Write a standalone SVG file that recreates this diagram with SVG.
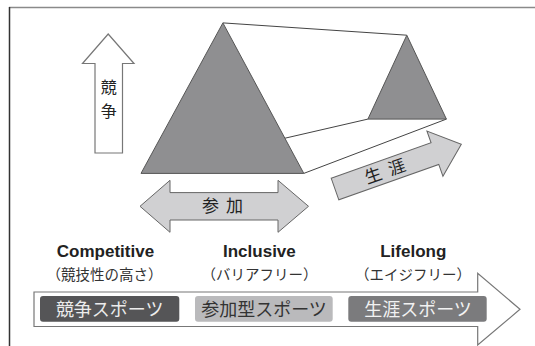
<svg xmlns="http://www.w3.org/2000/svg" width="535" height="346" viewBox="0 0 535 346">
<style>
.jp{font-family:"Noto Sans CJK JP","Noto Sans",sans-serif;}
.en{font-family:"Liberation Sans",Arial,sans-serif;font-weight:bold;font-size:17px;fill:#222;}
.sub{font-size:14.5px;fill:#333;}
.tri{fill:#8f8f91;stroke:#555;stroke-width:1;}
.edge{fill:none;stroke:#444;stroke-width:1;}
.grayarrow{fill:#d0d0d2;stroke:#666;stroke-width:1;}
.whitearrow{fill:#fff;stroke:#777;stroke-width:1.2;}
.box{font-size:18px;}
</style>
<rect width="535" height="346" fill="#fff"/>
<g id="frame">
<line x1="9" y1="7.5" x2="535" y2="7.5" stroke="#8a8a8a" stroke-width="1.5"/>
<line x1="9.5" y1="7" x2="9.5" y2="346" stroke="#333" stroke-width="1.5"/>
</g>
<g id="connectors">
<line class="edge" x1="222.9" y1="22.9" x2="406.8" y2="35.2"/>
<line class="edge" x1="285" y1="138.2" x2="367.9" y2="119.1"/>
<line class="edge" x1="303.8" y1="173.4" x2="446.4" y2="119.1"/>
</g>
<g id="big-triangle">
<polygon class="tri" points="222.9,22.9 141,173.4 303.8,173.4"/>
</g>
<g id="small-triangle">
<polygon class="tri" points="406.8,35.2 367.9,119.1 446.4,119.1"/>
</g>
<g id="competition-arrow">
<polygon class="whitearrow" points="108.2,34 82.5,63.5 95,63.5 95,153 122.5,153 122.5,63.5 134,63.5"/>
<text class="jp" x="108.7" y="92.5" font-size="16" text-anchor="middle" fill="#222">競</text>
<text class="jp" x="108.7" y="117" font-size="16" text-anchor="middle" fill="#222">争</text>
</g>
<g id="lifelong-arrow" transform="translate(335,189) rotate(-19.5)">
<path class="grayarrow" d="M0,-11.5 L106,-11.5 L106,-24 L134,0 L106,24 L106,11.5 L0,11.5 Z"/>
<text class="jp" x="57" y="6" font-size="17" text-anchor="middle" letter-spacing="8" fill="#222">生涯</text>
</g>
<g id="participation-arrow">
<path class="grayarrow" d="M140,206.3 L170,180.3 L170,192.6 L278,192.6 L278,180.3 L308.5,206.3 L278,232.3 L278,220 L170,220 L170,232.3 Z"/>
<text class="jp" x="226" y="212" font-size="17" text-anchor="middle" letter-spacing="7" fill="#222">参加</text>
</g>
<g id="label-competitive">
<text class="en" x="105.5" y="257" text-anchor="middle">Competitive</text>
<text class="jp sub" x="104.5" y="280" text-anchor="middle">（競技性の高さ）</text>
</g>
<g id="label-inclusive">
<text class="en" x="259.4" y="257" text-anchor="middle">Inclusive</text>
<text class="jp sub" x="259.4" y="280" text-anchor="middle">（バリアフリー）</text>
</g>
<g id="label-lifelong">
<text class="en" x="413.3" y="257" text-anchor="middle">Lifelong</text>
<text class="jp sub" x="413" y="280" text-anchor="middle">（エイジフリー）</text>
</g>
<g id="sports-arrow">
<polygon class="whitearrow" points="34,292 477.7,292 477.7,273.3 520,309.3 477.7,345 477.7,326.5 34,326.5"/>
</g>
<g id="box-competitive">
<rect x="40" y="296" width="139.3" height="25.7" rx="3" fill="#555557"/>
<text class="jp box" x="109.7" y="315.5" text-anchor="middle" fill="#ececec">競争スポーツ</text>
</g>
<g id="box-inclusive">
<rect x="195" y="296" width="137.7" height="25.7" rx="3" fill="#bababc"/>
<text class="jp box" x="264" y="315.5" text-anchor="middle" fill="#333">参加型スポーツ</text>
</g>
<g id="box-lifelong">
<rect x="348.3" y="296" width="138.4" height="25.7" rx="3" fill="#7b7b7d"/>
<text class="jp box" x="418" y="315.5" text-anchor="middle" fill="#f2f2f2">生涯スポーツ</text>
</g>
</svg>
